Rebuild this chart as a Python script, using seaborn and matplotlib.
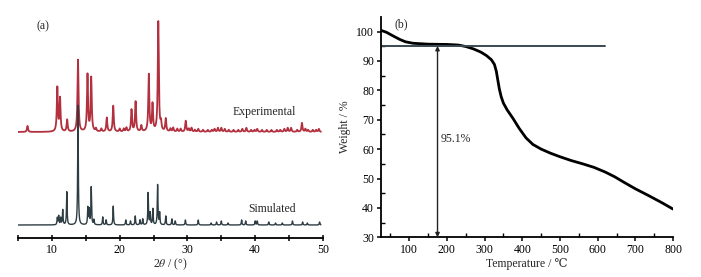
import numpy as np
import matplotlib
matplotlib.use("Agg")
import matplotlib.pyplot as plt
import seaborn as sns

sns.set_theme(style="ticks")
plt.rcParams['font.family'] = ['Liberation Serif', 'DejaVu Serif', 'DejaVu Sans']
plt.rcParams['mathtext.fontset'] = 'stix'

# (a) XRD peak list: 2theta position, height
exp_pos = [6.4, 10.8, 11.2, 12.25, 13.85, 15.25, 15.8, 16.5, 17.3, 18.1, 19.05, 20.0,
           20.6, 21.0, 21.75, 22.35, 23.2, 24.3, 24.85, 25.7, 26.1, 26.8, 27.5, 27.9,
           28.5, 29.0, 29.75, 30.2, 30.6, 31.1, 31.6, 32.3, 33.0, 33.6, 34.0, 34.5,
           35.0, 35.5, 36.1, 36.8, 37.5, 38.1, 38.7, 39.4, 39.9, 40.3, 41.0, 41.7,
           42.4, 43.2, 43.7, 44.3, 44.8, 45.3, 46.2, 46.9, 47.4, 47.8, 48.5, 49.0, 49.4]
exp_h = [6, 44, 33, 12, 72, 57, 54, 3, 3, 14, 26, 3,
         3, 4, 22, 30, 6, 57, 27, 110, 8, 13, 3, 4,
         3, 3, 11, 3, 4, 2, 3, 2, 2, 2, 3, 4,
         4, 3, 2, 2, 2, 3, 4, 2, 2, 3, 2, 2,
         2, 2, 2, 3, 4, 4, 2, 9, 3, 2, 2, 2, 3]

sim_pos = [10.8, 11.0, 11.3, 11.6, 12.2, 13.85, 15.3, 15.5, 15.8, 16.2, 17.5, 18.0,
           19.05, 20.9, 21.6, 22.3, 23.0, 23.4, 24.2, 24.5, 24.9, 25.6, 25.9, 26.8,
           27.7, 28.2, 29.7, 31.6, 33.5, 34.3, 35.0, 36.0, 38.0, 38.6, 40.0, 40.3,
           42.0, 43.0, 44.0, 45.5, 47.0, 47.7, 49.5]
sim_h = [7, 9, 7, 15, 33, 120, 17, 15, 38, 5, 8, 5,
         19, 5, 4, 9, 5, 6, 32, 12, 16, 40, 12, 9,
         6, 4, 5, 5, 2, 3, 4, 2, 5, 4, 4, 4,
         3, 2, 2, 4, 3, 2, 3]

# (b) TGA curve
tga_t = [25, 40, 60, 75, 90, 110, 150, 200, 230, 250, 270, 290, 305, 318, 326,
         331, 335, 339, 344, 350, 360, 375, 392, 410, 428, 450, 475, 500, 530,
         560, 590, 620, 645, 670, 700, 735, 770, 800]
tga_w = [100.4, 99.7, 98.3, 97.3, 96.5, 96.0, 95.7, 95.6, 95.4, 94.9, 94.1, 93.0,
         91.8, 90.4, 88.8, 86.5, 83.5, 80.5, 77.8, 75.6, 73.3, 70.5, 67.0, 63.8,
         61.6, 60.0, 58.6, 57.4, 56.1, 55.0, 53.8, 52.2, 50.6, 48.7, 46.5, 44.2,
         41.8, 39.6]
residue = 95.1
arrow_t = 175

red = "#b3303f"
slate = "#2e3d44"


def pattern(pos, h, width, grid):
    out = np.zeros_like(grid)
    for p, a in zip(pos, h):
        out += a * width ** 2 / ((grid - p) ** 2 + width ** 2)
    return out


fig = plt.figure(figsize=(7.01, 2.77), dpi=100)
ax1 = fig.add_axes([0.0257, 0.1408, 0.435, 0.805])
ax2 = fig.add_axes([0.5435, 0.1433, 0.4166, 0.796])

grid = np.linspace(5.0, 49.7, 3000)
sns.lineplot(x=grid, y=106 + pattern(exp_pos, exp_h, 0.09, grid), ax=ax1,
             color=red, lw=1.3, sort=False, estimator=None)
sns.lineplot(x=grid, y=13 + pattern(sim_pos, sim_h, 0.055, grid), ax=ax1,
             color=slate, lw=1.0, sort=False, estimator=None)
ax1.set_xlim(5, 50)
ax1.set_ylim(0, 223)
for s in ["left", "top", "right"]:
    ax1.spines[s].set_visible(False)
ax1.spines["bottom"].set_linewidth(1.3)
ax1.spines["bottom"].set_color("black")
ax1.set_yticks([])
ax1.set_xticks([10, 20, 30, 40, 50])
ax1.set_xticks([5, 15, 25, 35, 45], minor=True)
ax1.tick_params(axis="x", which="both", direction="inout", length=4, width=1.1,
                labelsize=8.5, pad=2, colors="black")
ax1.set_xlabel(r"2$\it{\theta}$ / (°)", fontsize=8.5, labelpad=1)
ax1.text(0.059, 0.95, "(a)", transform=ax1.transAxes, fontsize=8.5, ha="left", va="center")
ax1.text(41.4, 126, "Experimental", fontsize=8.5, ha="center", va="center")
ax1.text(42.5, 29, "Simulated", fontsize=8.5, ha="center", va="center")

sns.lineplot(x=tga_t, y=tga_w, ax=ax2, color="black", lw=2.0, sort=False, estimator=None)
ax2.plot([25, 620], [residue, residue], color="#3a4a52", lw=1.4)
ax2.annotate("", xy=(arrow_t, 30), xytext=(arrow_t, residue),
             arrowprops=dict(arrowstyle="<|-|>", color="#222222", lw=1.0,
                             mutation_scale=6, shrinkA=0, shrinkB=0))
ax2.text(arrow_t + 8, 63.5, "95.1%", fontsize=8.5, ha="left", va="center")
ax2.text(80, 102.3, "(b)", fontsize=8.5, ha="center", va="center")
ax2.set_xlim(25, 800)
ax2.set_ylim(30, 105)
for s in ["top", "right"]:
    ax2.spines[s].set_visible(False)
for s in ["left", "bottom"]:
    ax2.spines[s].set_linewidth(1.3)
    ax2.spines[s].set_color("black")
ax2.set_xticks(range(100, 801, 100))
ax2.set_xticks(range(50, 801, 100), minor=True)
ax2.set_yticks(range(30, 101, 10))
ax2.set_yticks(range(35, 101, 10), minor=True)
ax2.tick_params(which="major", direction="out", length=3, width=1.1, labelsize=8.5,
                pad=2, colors="black")
ax2.tick_params(which="minor", direction="in", length=3, width=1.0, colors="black")
ax2.set_xlabel("Temperature / ℃", fontsize=8.5, labelpad=1)
ax2.set_ylabel("Weight / %", fontsize=8.5, labelpad=4)

fig.savefig("out.png", dpi=100)
